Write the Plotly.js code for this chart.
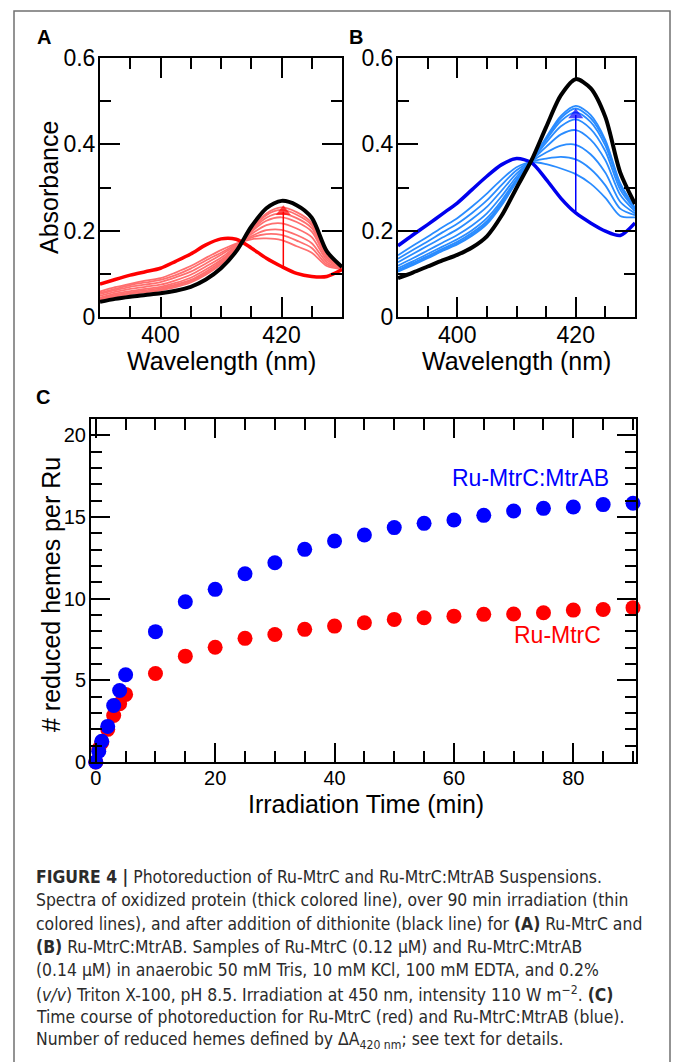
<!DOCTYPE html>
<html>
<head>
<meta charset="utf-8">
<script src="https://cdn.plot.ly/plotly-3.0.1.min.js"></script>
<style>html,body{margin:0;padding:0;background:#fff;}#chart{width:673px;height:1062px;}</style>
</head>
<body>
<div id="chart"></div>
<script>
// ---------- Panel A / B : wavelength grid (nm) ----------
const wavelength = [390, 392.5, 395, 397.5, 400, 402.5, 405, 407.5, 410, 412.5, 415, 417.5, 420, 422.5, 425, 427.5, 430];

// Panel A (Ru-MtrC)
const absA_ox   = [0.076, 0.087, 0.097, 0.105, 0.113, 0.129, 0.146, 0.167, 0.181, 0.180, 0.160, 0.136, 0.117, 0.101, 0.094, 0.094, 0.110];
const absA_dith = [0.035, 0.042, 0.047, 0.051, 0.055, 0.061, 0.070, 0.087, 0.113, 0.152, 0.209, 0.252, 0.269, 0.259, 0.230, 0.152, 0.116];
const absA_irr1 = [0.059, 0.069, 0.077, 0.084, 0.090, 0.103, 0.118, 0.137, 0.155, 0.170, 0.180, 0.182, 0.178, 0.164, 0.149, 0.118, 0.111];
const absA_irr2 = [0.056, 0.065, 0.074, 0.080, 0.086, 0.097, 0.112, 0.131, 0.149, 0.168, 0.184, 0.192, 0.190, 0.177, 0.160, 0.122, 0.112];
const absA_irr3 = [0.053, 0.062, 0.070, 0.075, 0.081, 0.092, 0.105, 0.124, 0.144, 0.166, 0.187, 0.201, 0.202, 0.190, 0.171, 0.127, 0.112];
const absA_irr4 = [0.049, 0.058, 0.065, 0.070, 0.075, 0.085, 0.098, 0.117, 0.137, 0.164, 0.192, 0.213, 0.217, 0.205, 0.185, 0.132, 0.113];
const absA_irr5 = [0.045, 0.054, 0.060, 0.065, 0.070, 0.079, 0.091, 0.110, 0.132, 0.161, 0.197, 0.223, 0.231, 0.220, 0.198, 0.137, 0.114];
const absA_irr6 = [0.043, 0.051, 0.057, 0.062, 0.067, 0.075, 0.086, 0.105, 0.128, 0.160, 0.200, 0.230, 0.240, 0.229, 0.206, 0.140, 0.114];
const absA_irr7 = [0.041, 0.049, 0.055, 0.059, 0.064, 0.072, 0.083, 0.101, 0.124, 0.159, 0.202, 0.236, 0.248, 0.237, 0.213, 0.143, 0.114];
const absA_irr8 = [0.039, 0.047, 0.053, 0.057, 0.062, 0.069, 0.080, 0.098, 0.122, 0.158, 0.204, 0.240, 0.254, 0.243, 0.218, 0.145, 0.114];

// Panel B (Ru-MtrC:MtrAB)
const absB_ox   = [0.165, 0.190, 0.214, 0.239, 0.264, 0.295, 0.326, 0.353, 0.367, 0.358, 0.319, 0.275, 0.241, 0.218, 0.199, 0.189, 0.218];
const absB_dith = [0.090, 0.103, 0.117, 0.131, 0.144, 0.161, 0.187, 0.235, 0.299, 0.362, 0.440, 0.514, 0.551, 0.530, 0.463, 0.335, 0.262];
const absB_irr1 = [0.143, 0.165, 0.186, 0.208, 0.229, 0.256, 0.286, 0.319, 0.347, 0.359, 0.354, 0.344, 0.331, 0.309, 0.276, 0.234, 0.231];
const absB_irr2 = [0.135, 0.155, 0.175, 0.196, 0.216, 0.241, 0.270, 0.306, 0.340, 0.360, 0.367, 0.371, 0.365, 0.343, 0.305, 0.251, 0.236];
const absB_irr3 = [0.127, 0.146, 0.165, 0.184, 0.203, 0.227, 0.255, 0.293, 0.332, 0.360, 0.381, 0.397, 0.399, 0.377, 0.334, 0.267, 0.240];
const absB_irr4 = [0.119, 0.136, 0.154, 0.172, 0.190, 0.212, 0.240, 0.280, 0.325, 0.361, 0.394, 0.423, 0.433, 0.411, 0.363, 0.283, 0.245];
const absB_irr5 = [0.113, 0.129, 0.146, 0.163, 0.180, 0.201, 0.229, 0.270, 0.319, 0.361, 0.404, 0.442, 0.458, 0.436, 0.384, 0.295, 0.249];
const absB_irr6 = [0.109, 0.125, 0.141, 0.158, 0.174, 0.195, 0.222, 0.265, 0.316, 0.361, 0.410, 0.454, 0.474, 0.452, 0.397, 0.303, 0.251];
const absB_irr7 = [0.107, 0.122, 0.138, 0.155, 0.170, 0.191, 0.218, 0.261, 0.314, 0.361, 0.413, 0.461, 0.483, 0.461, 0.405, 0.307, 0.252];
const absB_irr8 = [0.105, 0.120, 0.136, 0.153, 0.168, 0.188, 0.215, 0.259, 0.313, 0.361, 0.416, 0.466, 0.489, 0.468, 0.410, 0.310, 0.253];

// Arrows: wavelength, start absorbance, arrow-head centre absorbance
const arrowA = [420.3, 0.118, 0.244];
const arrowB = [420.0, 0.245, 0.468];

// ---------- Panel C : time course ----------
const timeMin = [0, 0.5, 1, 2, 3, 4, 5, 10, 15, 20, 25, 30, 35, 40, 45, 50, 55, 60, 65, 70, 75, 80, 85, 90];
const hemesMtrC = [0, 0.80, 1.20, 2.00, 2.85, 3.57, 4.14, 5.42, 6.48, 7.03, 7.57, 7.81, 8.12, 8.32, 8.53, 8.73, 8.83, 8.93, 9.04, 9.06, 9.14, 9.30, 9.34, 9.45];
const hemesMtrAB = [0, 0.66, 1.27, 2.18, 3.46, 4.38, 5.34, 7.98, 9.81, 10.57, 11.53, 12.20, 13.02, 13.53, 13.90, 14.35, 14.61, 14.82, 15.10, 15.37, 15.53, 15.61, 15.76, 15.84];

const captionLines = [
  "<b>FIGURE 4 |</b> Photoreduction of Ru-MtrC and Ru-MtrC:MtrAB Suspensions.",
  "Spectra of oxidized protein (thick colored line), over 90 min irradiation (thin",
  "colored lines), and after addition of dithionite (black line) for <b>(A)</b> Ru-MtrC and",
  "<b>(B)</b> Ru-MtrC:MtrAB. Samples of Ru-MtrC (0.12 μM) and Ru-MtrC:MtrAB",
  "(0.14 μM) in anaerobic 50 mM Tris, 10 mM KCl, 100 mM EDTA, and 0.2%",
  "(<i>v/v</i>) Triton X-100, pH 8.5. Irradiation at 450 nm, intensity 110 W m<sup>−2</sup>. <b>(C)</b>",
  "Time course of photoreduction for Ru-MtrC (red) and Ru-MtrC:MtrAB (blue).",
  "Number of reduced hemes defined by ΔA<sub>420 nm</sub>; see text for details."
];

// ---------- build ----------
const FONT = "Liberation Sans, Arial, Helvetica, sans-serif";
const CAPFONT = "DejaVu Sans Condensed, Liberation Sans Narrow, sans-serif";
const W = 673, H = 1062;
const px = v => v / W, py = v => 1 - v / H;

const traces = [];
function line(x, y, color, width, xa, ya) {
  traces.push({x: x, y: y, type: 'scatter', mode: 'lines', xaxis: xa, yaxis: ya,
    line: {color: color, width: width, shape: 'spline', smoothing: 0.8}, hoverinfo: 'skip', showlegend: false});
}
function arrow(a, color, xa, ya) {
  traces.push({x: [a[0], a[0]], y: [a[1], a[2]], type: 'scatter', mode: 'lines+markers', xaxis: xa, yaxis: ya,
    line: {color: color, width: 1.5}, marker: {symbol: 'triangle-up', size: [0, 13], color: color, line: {width: 0}},
    cliponaxis: false, hoverinfo: 'skip', showlegend: false});
}
const thinA = [absA_irr1, absA_irr2, absA_irr3, absA_irr4, absA_irr5, absA_irr6, absA_irr7, absA_irr8];
const thinB = [absB_irr1, absB_irr2, absB_irr3, absB_irr4, absB_irr5, absB_irr6, absB_irr7, absB_irr8];
thinA.forEach(a => line(wavelength, a, '#ff6f6f', 1.8, 'x', 'y'));
line(wavelength, absA_ox, '#ff0000', 3.5, 'x', 'y');
line(wavelength, absA_dith, '#000000', 4, 'x', 'y');
arrow(arrowA, '#ff0000', 'x', 'y');
thinB.forEach(a => line(wavelength, a, '#2a8cff', 1.8, 'x2', 'y2'));
line(wavelength, absB_ox, '#0000ee', 3.5, 'x2', 'y2');
line(wavelength, absB_dith, '#000000', 4, 'x2', 'y2');
arrow(arrowB, '#0000ff', 'x2', 'y2');

traces.push({x: timeMin, y: hemesMtrC, type: 'scatter', mode: 'markers', xaxis: 'x3', yaxis: 'y3',
  marker: {color: '#ff0000', size: 15}, cliponaxis: false, showlegend: false, name: 'Ru-MtrC'});
traces.push({x: timeMin, y: hemesMtrAB, type: 'scatter', mode: 'markers', xaxis: 'x3', yaxis: 'y3',
  marker: {color: '#0000ff', size: 15}, cliponaxis: false, showlegend: false, name: 'Ru-MtrC:MtrAB'});

function axis(domain, range, dtick, tick0, minor, majorLen, minorLen, tickSize, anchor, standoff) {
  return {
    domain: domain, range: range, anchor: anchor, dtick: dtick, tick0: tick0,
    ticks: 'inside', ticklen: majorLen, tickwidth: 2, tickcolor: '#000',
    showline: true, linecolor: '#000', linewidth: 2, mirror: 'allticks',
    showgrid: false, zeroline: false, fixedrange: true, ticklabelstandoff: standoff,
    tickfont: {family: FONT, size: tickSize, color: '#000'},
    minor: {dtick: minor, ticks: 'inside', ticklen: minorLen, tickwidth: 2, tickcolor: '#000', showgrid: false}
  };
}
function label(text, x, y, size, opts) {
  return Object.assign({xref: 'paper', yref: 'paper', x: px(x), y: py(y), xanchor: 'center', yanchor: 'middle',
    showarrow: false, text: text, font: {family: FONT, size: size, color: '#000'}}, opts || {});
}

const annotations = [
  // axis titles
  label('Wavelength (nm)', 221, 361, 25),
  label('Wavelength (nm)', 516, 361, 25),
  label('Absorbance', 49, 188, 25, {textangle: -90}),
  label('Irradiation Time (min)', 366, 804, 25),
  label('# reduced hemes per Ru', 51, 595, 25, {textangle: -90}),
  // panel letters
  label('<b>A</b>', 44, 37, 20),
  label('<b>B</b>', 356, 37, 20),
  label('<b>C</b>', 43, 397, 20),
  // series labels in C
  {xref: 'x3', yref: 'y3', x: 86.3, y: 17.4, xanchor: 'right', yanchor: 'middle', showarrow: false,
   text: 'Ru-MtrC:MtrAB', font: {family: FONT, size: 23, color: '#0000ff'}},
  {xref: 'x3', yref: 'y3', x: 84.9, y: 7.75, xanchor: 'right', yanchor: 'middle', showarrow: false,
   text: 'Ru-MtrC', font: {family: FONT, size: 23, color: '#ff0000'}}
];
captionLines.forEach((t, i) => {
  annotations.push(label(t, 34, 877 + i * 23.3, 17.4,
    {xanchor: 'left', align: 'left', font: {family: CAPFONT, size: 17.4, color: '#2b2b2b'}}));
});

const layout = {
  width: W, height: H, margin: {l: 0, r: 0, t: 0, b: 0},
  paper_bgcolor: '#fff', plot_bgcolor: 'rgba(0,0,0,0)', showlegend: false,
  font: {family: FONT, color: '#000'},
  xaxis: axis([px(100), px(342)], [390, 430], 20, 400, 5, 20, 11, 23, 'y', -4),
  yaxis: axis([py(317), py(58)], [0, 0.6], 0.2, 0, 0.1, 20, 11, 23, 'x', -2),
  xaxis2: axis([px(398), px(635)], [390, 430], 20, 400, 5, 20, 11, 23, 'y2', -4),
  yaxis2: axis([py(317), py(58)], [0, 0.6], 0.2, 0, 0.1, 20, 11, 23, 'x2', -2),
  xaxis3: axis([px(91), px(636)], [-0.8, 90.5], 20, 0, 5, 19, 11, 20, 'y3', -3),
  yaxis3: axis([py(762), py(419)], [0, 21], 5, 0, 1, 19, 11, 20, 'x3', -1),
  annotations: annotations,
  shapes: [
    {type: 'rect', xref: 'paper', yref: 'paper', x0: px(14), x1: px(670), y0: -0.05, y1: py(11),
     line: {color: '#707070', width: 1.5}, fillcolor: 'rgba(0,0,0,0)', layer: 'below'}
  ]
};

Plotly.newPlot('chart', traces, layout, {staticPlot: true, displayModeBar: false});
</script>
</body>
</html>
